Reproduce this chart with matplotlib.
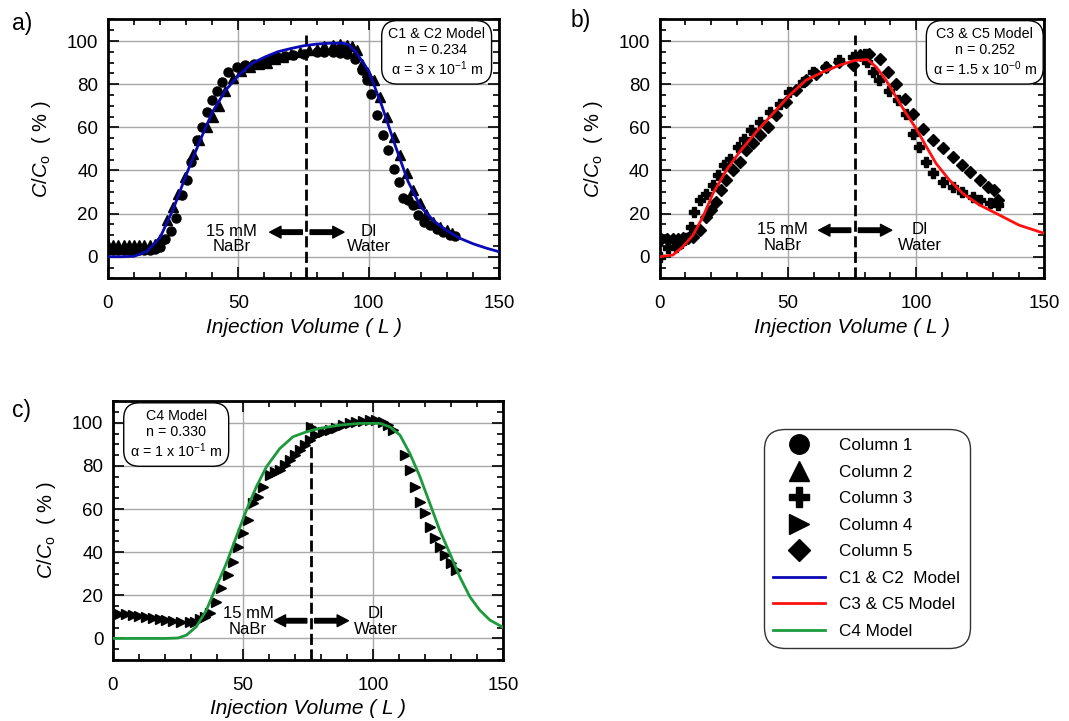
import matplotlib
matplotlib.use("Agg")
import matplotlib.pyplot as plt
from matplotlib.lines import Line2D
from matplotlib.ticker import MultipleLocator

plt.rcParams['font.family'] = ['Liberation Sans', 'DejaVu Sans']
plt.rcParams['mathtext.fontset'] = 'custom'
plt.rcParams['mathtext.rm'] = 'Liberation Sans'
plt.rcParams['mathtext.it'] = 'Liberation Sans:italic'

# ---- panel a: columns 1 & 2 ----
col1_x = [0, 2, 4, 6, 8, 10, 12, 14, 16, 18, 20, 22, 24, 26, 28.3, 30.2, 32, 34, 35.9, 37.9,
          39.8, 41.7, 43.6, 46.2, 49.4, 52.5, 55.8, 59.6, 62, 64.7, 68, 71, 75, 80, 83, 86.4,
          89, 91.6, 94.8, 97.3, 99.2, 101, 103, 105.6, 107.5, 109.5, 111.4, 113.3, 115.2,
          117, 119, 121, 123.5, 126, 128.6, 131, 133]
col1_y = [3, 3, 3, 3, 3, 3, 3, 3, 3, 3.5, 4.5, 8, 12, 18, 28.5, 35.5, 44, 54, 60, 67,
          72.5, 77, 81, 85.6, 88, 89, 89.5, 90.3, 91.5, 92.6, 93, 93.4, 94, 95, 95, 95,
          94.5, 94, 91.8, 86.4, 81.8, 75.6, 65.6, 56.3, 49.4, 40.9, 34.7, 27, 26.2,
          24, 19.3, 16.2, 14.7, 13, 11.6, 10, 9.5]
col2_x = [0, 2, 4, 6, 8, 10, 12, 14, 16, 18, 20, 22.5, 25, 27, 29.5, 32.7, 35, 37.9, 40.4,
          42.5, 45, 48, 51, 54.5, 58, 61, 64, 67, 70, 73.7, 77, 80, 83, 86.4, 89, 91.6, 93.5,
          95.4, 97.3, 99.2, 101.8, 104.3, 107, 109.5, 112, 114.6, 117, 119.7, 122, 124.8,
          127.4, 130, 131.8]
col2_y = [5.5, 5.5, 5.5, 5.5, 5.5, 5.5, 5.5, 5.5, 5.5, 6, 8, 17, 23, 29, 37, 47.8, 54, 60, 64.8,
          70, 77, 83, 86, 88, 89.5, 90, 91.5, 92.6, 94, 95, 96, 96.5, 97.5, 98, 98.5, 98, 97.5,
          95.7, 89.5, 85.6, 81.8, 74, 64.8, 55.6, 47, 38.6, 31, 24.7, 20, 16.2,
          13.9, 12.3, 10.8]
model_a_x = [0, 5, 10, 15, 20, 25, 30, 35, 40, 45, 50, 55, 60, 65, 70, 75, 80, 85, 90, 92,
             95, 100, 105, 110, 115, 120, 125, 130, 135, 140, 145, 150]
model_a_y = [0, 0, 0.2, 2.5, 9, 22, 38, 53, 67, 77, 84, 89.5, 92.5, 95, 96.5, 97.8, 98.6, 99,
             99, 98.5, 95, 86, 70, 52, 35, 23, 16.5, 12, 8.5, 6, 4, 2.3]

# ---- panel b: columns 3 & 5 ----
col3_x = [0, 3.2, 6.5, 8.5, 10.4, 12.3, 13.6, 15.6, 18.2, 20.8, 22.7, 25.3, 27.3, 30.5, 33.1,
          35.7, 39, 42.9, 46.8, 50.6, 55.8, 59.7, 65, 70, 75.3, 80, 81, 83, 85.7, 89.6, 92.9,
          96, 98.7, 101, 104, 106.5, 110.4, 114.3, 118, 122, 124.7, 128.6, 131.8]
col3_y = [0, 3.9, 4.6, 6.5, 8.5, 13.9, 20.8, 26.2, 29.3, 33.2, 37.8, 42.4, 45.5, 51, 54.8,
          58.6, 62.5, 67, 71, 76.4, 81, 85.6, 88, 91, 92.6, 94, 90.3, 85.6, 81.8, 77, 72.5,
          66.4, 57, 51, 44, 38.6, 34.7, 32.4, 30, 27.8, 26.2, 24.7, 24]
col5_x = [0.6, 3, 5.2, 7, 9, 11, 13, 15.6, 18.2, 20, 22, 24, 26, 28.6, 31.2, 33.8, 36.4, 39,
          42.2, 45.5, 49.4, 53.2, 57, 61, 65, 70, 75.3, 78, 81.8, 86, 89, 92.2, 95.5, 98.7,
          102.6, 106.5, 110.4, 114.3, 118, 121, 124.7, 128, 130.5, 131.8]
col5_y = [8, 8, 8, 8, 8.5, 8.8, 9.3, 12.3, 18.5, 21.6, 25.5, 30.9, 35.5, 40, 44, 49.4, 52.5,
          56.3, 60.2, 65.6, 71.8, 77.2, 81.8, 84.9, 88, 90.3, 88.7, 93.4, 94.1, 91.8, 85.6,
          80.2, 73.3, 66.4, 59.4, 54, 50.2, 46.3, 42.4, 39.5, 35.5, 32.4, 30.9, 26.2]
model_b_x = [0, 5.2, 9, 13, 16.9, 20.8, 26, 31.2, 37.7, 44.2, 50.6, 57, 63.6, 70, 76, 81,
             84.4, 88.3, 92.2, 96.1, 100, 104, 107.8, 113, 118.2, 124.7, 132.5, 140, 150]
model_b_y = [0, 0.8, 4.6, 10, 18.5, 29.3, 40, 48.6, 57.9, 66.4, 74.8, 81.8, 85.6, 88.7, 91,
             91.4, 88, 81.8, 74, 66.4, 59.4, 51, 43.2, 35.5, 29.3, 24, 19.3, 14.7, 10.8]

# ---- panel c: column 4 ----
col4_x = [0, 2.5, 5, 7.7, 10, 12.5, 15.4, 18, 20.5, 23, 26, 29.5, 31.5, 33.3, 35.3, 37.2,
          39.7, 41.7, 44.2, 46.2, 48, 50, 51.9, 53.8, 55.8, 57.7, 60.3, 62.2, 64.1, 66, 68,
          69.9, 71.8, 73.7, 75.6, 76, 78.2, 80.8, 83.3, 85.9, 88.5, 91, 93.6, 96.2, 98.7,
          101.3, 103.8, 105.8, 107.7, 112.2, 114.1, 116, 118, 119.9, 121.8, 123.7, 125.6,
          127.6, 130.1, 132]
col4_y = [11.6, 11.4, 11.1, 10.8, 10.5, 10.1, 9.7, 9.2, 8.7, 8.2, 7.8, 7.4, 7.6, 8.8, 10,
          11.6, 17, 23.2, 29.4, 35.5, 42.5, 48.7, 54.9, 62.6, 65.7, 70.3, 75.7, 77.3, 78, 80.4,
          82.7, 85, 87.3, 89.6, 92, 98, 94.2, 95.8, 96.6, 97.4, 98.9, 99.7, 100.5, 100.9, 101.2,
          101.2, 100.5, 98.9, 96.6, 85, 78, 70.3, 63.4, 58, 51.8, 46.4, 42.5,
          38.6, 34.8, 31.7]
model_c_x = [0, 10, 20, 25, 28.2, 32, 35.9, 39.7, 43.6, 47.4, 51.3, 55.1, 59, 64.1, 69.2,
             74.4, 79.5, 87.2, 94.9, 102.6, 106.4, 110.3, 114.1, 118, 121.8, 125.6, 129.5,
             133.3, 137.2, 141, 144.9, 150]
model_c_y = [0, 0, 0, 0.2, 1.5, 5.4, 13.1, 24, 34.8, 47.1, 59.5, 70.3, 79.6, 88, 93.5,
             95.8, 97.4, 98.9, 99.7, 99.7, 98.1, 94.3, 85.8, 75, 62.6, 50.2, 39.4,
             28.6, 19.3, 13.1, 8.5, 5.1]

switch_volume = 76
xticks = [0, 50, 100, 150]
yticks = [0, 20, 40, 60, 80, 100]
model_labels = ["C1 & C2  Model", "C3 & C5 Model", "C4 Model"]
box_texts = [
    "C1 & C2 Model\nn = 0.234\n" + r"α = 3 x 10$^{\mathrm{-1}}$ m",
    "C3 & C5 Model\nn = 0.252\n" + r"α = 1.5 x 10$^{\mathrm{-0}}$ m",
    "C4 Model\nn = 0.330\n" + r"α = 1 x 10$^{\mathrm{-1}}$ m",
]

BLUE = '#0a0ab4'
RED = '#ff1010'
GREEN = '#1c9a3c'

fig = plt.figure(figsize=(10.69, 7.21), dpi=100)
ax_a = fig.add_axes([0.101, 0.614, 0.366, 0.359])
ax_b = fig.add_axes([0.617, 0.614, 0.360, 0.359])
ax_c = fig.add_axes([0.1057, 0.0846, 0.365, 0.359])


def style(ax):
    ax.set_xlim(0, 150)
    ax.set_ylim(-10, 110)
    ax.set_xticks(xticks)
    ax.set_yticks(yticks)
    ax.xaxis.set_minor_locator(MultipleLocator(10))
    ax.yaxis.set_minor_locator(MultipleLocator(5))
    ax.tick_params(which='both', direction='in', top=True, right=True, width=1.2)
    ax.tick_params(which='major', length=8, labelsize=13.5)
    ax.tick_params(which='minor', length=4.5)
    ax.tick_params(axis='x', pad=12)
    ax.tick_params(axis='y', pad=7)
    ax.grid(True, which='major', color='#a8a8a8', lw=1)
    ax.set_axisbelow(True)
    for s in ax.spines.values():
        s.set_linewidth(2)
    ax.set_xlabel("Injection Volume ( L )", fontsize=15, style='italic', labelpad=4)
    ax.set_ylabel(r"$C/C_\mathrm{o}$  ( % )", fontsize=14.5, labelpad=10)


def annotate(ax, left_x, right_x, ty, ay, top):
    ax.vlines(switch_volume, -10, top, colors='k', lw=2, linestyles=(0, (4, 1.6)), zorder=4)
    ax.text(left_x, ty, "15 mM\nNaBr", ha='center', va='center', fontsize=12, linespacing=1.05)
    ax.text(right_x, ty, "DI\nWater", ha='center', va='center', fontsize=12, linespacing=1.05)
    arrow = dict(arrowstyle="simple,head_length=0.45,head_width=0.47,tail_width=0.18",
                 color='k', mutation_scale=18, shrinkA=0, shrinkB=0)
    ax.annotate("", xy=(switch_volume - 14, ay), xytext=(switch_volume - 1.5, ay), arrowprops=arrow)
    ax.annotate("", xy=(switch_volume + 14.5, ay), xytext=(switch_volume + 1.5, ay), arrowprops=arrow)


box = dict(boxstyle="round,pad=0.45,rounding_size=1.1", fc='white', ec='k', lw=1)

# panel a
style(ax_a)
ax_a.plot(col1_x, col1_y, 'o', color='k', ms=6.5, zorder=3)
ax_a.plot(col2_x, col2_y, '^', color='k', ms=7, zorder=3)
ax_a.plot(model_a_x, model_a_y, color=BLUE, lw=2, zorder=5)
annotate(ax_a, 47.5, 100, 8.3, 11.4, 103)
ax_a.text(0.84, 0.873, box_texts[0], transform=ax_a.transAxes, ha='center', va='center',
          fontsize=10.3, bbox=box, linespacing=1.15, zorder=6)

# panel b
style(ax_b)
ax_b.plot(col3_x, col3_y, 'P', color='k', ms=7, zorder=3)
ax_b.plot(col5_x, col5_y, 'D', color='k', ms=6, zorder=3)
ax_b.plot(model_b_x, model_b_y, color=RED, lw=2, zorder=5)
annotate(ax_b, 48, 101.3, 9, 12.3, 103)
ax_b.text(0.845, 0.873, box_texts[1], transform=ax_b.transAxes, ha='center', va='center',
          fontsize=10.3, bbox=box, linespacing=1.15, zorder=6)

# panel c
style(ax_c)
ax_c.plot(col4_x, col4_y, '>', color='k', ms=7, zorder=3)
ax_c.plot(model_c_x, model_c_y, color=GREEN, lw=2, zorder=5)
annotate(ax_c, 51.9, 101, 7.8, 8.2, 100)
ax_c.text(0.162, 0.871, box_texts[2], transform=ax_c.transAxes, ha='center', va='center',
          fontsize=10.3, bbox=box, linespacing=1.15, zorder=6)

fig.text(12 / 1069, 1 - 12 / 721, "a)", fontsize=16.5, va='top', ha='left')
fig.text(571 / 1069, 1 - 9 / 721, "b)", fontsize=16.5, va='top', ha='left')
fig.text(12 / 1069, 1 - 399 / 721, "c)", fontsize=16.5, va='top', ha='left')

handles = [
    Line2D([], [], ls='none', marker='o', color='k', ms=14),
    Line2D([], [], ls='none', marker='^', color='k', ms=14),
    Line2D([], [], ls='none', marker='P', color='k', ms=14),
    Line2D([], [], ls='none', marker='>', color='k', ms=14),
    Line2D([], [], ls='none', marker='D', color='k', ms=11),
    Line2D([], [], color=BLUE, lw=2),
    Line2D([], [], color=RED, lw=2),
    Line2D([], [], color=GREEN, lw=2),
]
labels = ["Column 1", "Column 2", "Column 3", "Column 4", "Column 5"] + model_labels
leg = fig.legend(handles, labels, loc='upper left', bbox_to_anchor=(764 / 1069, 1 - 429 / 721),
                 fontsize=12.3, frameon=True, fancybox=True, labelspacing=0.67,
                 handlelength=3.0, handletextpad=0.85, borderpad=0.55, borderaxespad=0)
leg.get_frame().set_edgecolor('k')
leg.get_frame().set_linewidth(1)
leg.get_frame().set_boxstyle("round,pad=0,rounding_size=1.2")

fig.savefig("out.png", dpi=100)
